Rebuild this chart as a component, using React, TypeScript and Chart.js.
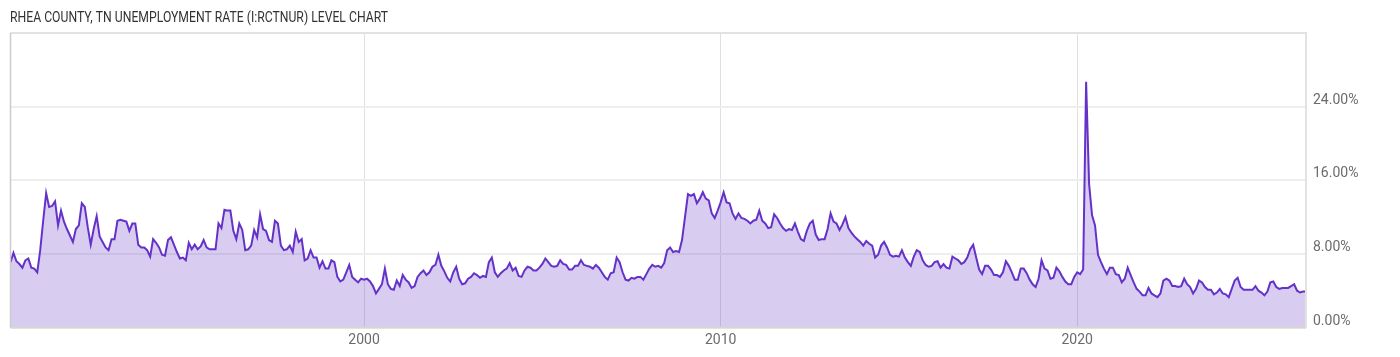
import React, { useEffect, useRef } from "react";
import { Chart, registerables } from "chart.js";

Chart.register(...registerables);

const TITLE = "RHEA COUNTY, TN UNEMPLOYMENT RATE (I:RCTNUR) LEVEL CHART";
const START_YEAR = 1990;
const X_TICKS = [2000, 2010, 2020];
const Y_TICK_STEP = 8;

const rates1990s = [
  7.1, 8.1, 7.2, 6.9, 6.5, 7.3, 7.5, 6.5, 6.4, 6.0, 8.4, 11.6,
  14.6, 13.1, 13.2, 13.7, 11.1, 12.7, 11.5, 10.7, 10.0, 9.3, 10.7, 11.1,
  13.5, 13.1, 10.9, 9.0, 10.7, 12.1, 9.9, 9.3, 8.7, 8.4, 9.6, 9.6,
  11.6, 11.7, 11.6, 11.5, 10.5, 11.3, 11.3, 9.0, 8.7, 8.7, 8.4, 7.7,
  9.6, 9.2, 8.7, 7.9, 7.8, 9.5, 9.8, 9.0, 8.2, 7.5, 7.6, 7.3,
  9.2, 8.5, 9.0, 8.5, 8.8, 9.5, 8.7, 8.5, 8.5, 8.5, 11.3, 10.8,
  12.8, 12.7, 12.7, 10.5, 9.6, 11.3, 10.6, 8.4, 8.5, 8.9, 10.6, 9.8,
  12.3, 10.7, 10.5, 9.5, 9.3, 11.6, 11.3, 8.9, 8.4, 8.5, 8.9, 8.2,
  10.4, 9.3, 9.6, 7.3, 7.5, 8.4, 7.6, 7.6, 6.5, 7.2, 6.4, 6.4,
  7.3, 7.1, 5.5, 5.0, 5.2, 6.0, 6.8, 5.5, 5.2, 4.9, 5.3, 5.2,
];

const rates2000s = [
  5.3, 5.0, 4.5, 3.7, 4.2, 4.7, 6.4, 4.7, 4.2, 4.1, 5.1, 4.5,
  5.7, 5.2, 4.9, 4.3, 4.5, 5.5, 5.9, 6.2, 5.7, 6.0, 6.6, 6.8,
  7.9, 6.7, 6.1, 5.4, 5.0, 6.0, 6.6, 5.3, 4.7, 4.8, 5.3, 5.5,
  5.9, 5.7, 5.4, 5.6, 5.5, 7.1, 7.6, 6.0, 5.5, 5.9, 6.2, 6.4,
  7.0, 6.2, 6.5, 5.6, 5.5, 6.2, 6.6, 6.5, 6.2, 6.2, 6.5, 6.9,
  7.5, 7.1, 6.7, 6.6, 6.7, 7.3, 6.9, 6.8, 6.3, 6.3, 6.7, 6.7,
  7.3, 6.8, 6.7, 6.6, 6.4, 6.8, 6.5, 6.0, 5.5, 5.2, 5.9, 6.0,
  7.6, 7.1, 6.0, 5.2, 5.1, 5.4, 5.3, 5.5, 5.5, 5.2, 5.8, 6.4,
  6.8, 6.6, 6.7, 6.5, 7.0, 8.4, 8.7, 8.2, 8.3, 8.2, 9.5, 12.0,
  14.5, 14.3, 14.5, 13.5, 14.0, 14.7, 14.0, 13.8, 12.4, 11.9, 12.7, 13.6,
];

const rates2010s = [
  14.7, 13.6, 13.5, 12.4, 11.8, 12.4, 11.9, 11.8, 11.6, 11.3, 11.6, 11.7,
  12.7, 11.6, 11.3, 10.8, 10.9, 12.3, 11.9, 11.3, 10.8, 10.5, 10.7, 10.6,
  11.3, 10.4, 9.6, 9.4, 10.5, 11.3, 11.6, 10.1, 9.5, 9.6, 9.6, 10.7,
  12.4, 11.5, 11.3, 10.6, 11.2, 12.0, 10.8, 10.3, 9.9, 9.6, 9.3, 8.9,
  9.4, 9.1, 8.9, 7.6, 7.9, 8.9, 9.3, 8.7, 7.9, 7.7, 7.8, 7.7,
  8.4, 7.6, 7.1, 6.7, 7.7, 8.4, 8.2, 7.3, 6.8, 6.6, 6.7, 7.1,
  7.2, 6.5, 6.9, 6.5, 6.4, 7.7, 7.5, 7.3, 6.9, 7.1, 7.6, 8.5,
  9.0, 7.6, 6.3, 5.8, 6.7, 6.7, 6.3, 5.7, 5.7, 5.5, 6.0, 7.2,
  6.7, 6.0, 5.2, 5.2, 6.4, 6.4, 5.9, 5.2, 4.7, 4.4, 5.3, 7.3,
  6.4, 6.2, 5.3, 5.4, 6.5, 6.1, 5.5, 5.0, 4.7, 4.7, 5.5, 6.0,
];

const rates2020s = [
  5.8, 6.3, 26.7, 15.6, 12.2, 11.1, 7.9, 7.1, 6.4, 5.8, 6.5, 6.5,
  5.8, 5.7, 4.9, 5.3, 6.5, 5.7, 4.9, 4.2, 3.9, 3.5, 3.5, 4.3,
  3.7, 3.5, 3.3, 3.7, 5.1, 5.3, 5.1, 4.5, 4.5, 4.4, 4.5, 5.3,
  4.7, 4.4, 3.7, 4.2, 5.1, 4.9, 4.4, 4.1, 4.1, 3.6, 3.8, 4.2,
  3.7, 3.6, 3.3, 4.2, 5.1, 5.4, 4.4, 4.1, 4.1, 4.1, 4.1, 4.5,
  4.0, 3.8, 3.5, 3.9, 4.9, 5.0, 4.4, 4.2, 4.3, 4.3, 4.3, 4.5,
  4.7, 4.0, 3.8, 3.9, 3.9,
];

const rates = [...rates1990s, ...rates2000s, ...rates2010s, ...rates2020s];
// monthly observations, stamped at month end
const dates = rates.map((_, i) => START_YEAR + (i + 1) / 12);

const chrome = {
  id: "chrome",
  afterDraw(chart: any) {
    const { ctx, chartArea: a } = chart;
    ctx.save();
    ctx.strokeStyle = "#e2e2e2";
    ctx.lineWidth = 2;
    ctx.beginPath();
    ctx.moveTo(a.left, a.top);
    ctx.lineTo(a.right, a.top);
    ctx.lineTo(a.right, a.bottom);
    ctx.stroke();
    ctx.strokeStyle = "#d6d6d6";
    ctx.beginPath();
    ctx.moveTo(a.left, a.bottom);
    ctx.lineTo(a.right, a.bottom);
    ctx.stroke();
    ctx.strokeStyle = "#cccccc";
    ctx.lineWidth = 1.5;
    ctx.beginPath();
    ctx.moveTo(a.left, a.top);
    ctx.lineTo(a.left, a.bottom);
    ctx.stroke();

    ctx.font = "400 14px Roboto";
    ctx.fillStyle = "#333333";
    ctx.textBaseline = "alphabetic";
    const w = ctx.measureText(TITLE).width;
    ctx.translate(10, 21.7);
    ctx.scale(378 / w, 1);
    ctx.fillText(TITLE, 0, 0);
    ctx.restore();
  },
};

export default function App() {
  const ref = useRef<HTMLCanvasElement | null>(null);
  useEffect(() => {
    if (!ref.current) return;
    const chart = new Chart(ref.current, {
      type: "line",
      data: {
        datasets: [
          {
            data: rates.map((v, i) => ({ x: dates[i], y: v })),
            borderColor: "rgb(100,50,200)",
            backgroundColor: "rgba(100,50,200,0.25)",
            borderWidth: 2,
            pointRadius: 0,
            fill: "origin",
            tension: 0,
          },
        ],
      },
      options: {
        animation: false,
        responsive: false,
        layout: { padding: { left: 10.5, top: 33, right: 0, bottom: 0 } },
        plugins: { legend: { display: false }, tooltip: { enabled: false } },
        scales: {
          x: {
            type: "linear",
            min: dates[0],
            max: dates[dates.length - 1],
            afterBuildTicks: (s: any) => {
              s.ticks = X_TICKS.map((v) => ({ value: v }));
            },
            afterFit: (s: any) => {
              s.height = 357 - 327.5;
            },
            grid: { color: "#e0e0e0", lineWidth: 1, drawTicks: false },
            border: { display: false },
            ticks: {
              padding: 5,
              color: "#6b6b6b",
              font: { family: "Roboto", size: 14 },
              callback: (v: any) => String(v),
              maxRotation: 0,
            },
          },
          y: {
            position: "right",
            min: 0,
            max: 32,
            afterFit: (s: any) => {
              s.width = 94;
            },
            grid: { color: "#eeeeee", lineWidth: 2, drawTicks: false },
            border: { display: false },
            ticks: {
              stepSize: Y_TICK_STEP,
              padding: 7,
              labelOffset: -6.5,
              color: "#6b6b6b",
              font: { family: "Roboto", size: 14 },
              callback: (v: any) => (v >= 32 ? "" : Number(v).toFixed(2) + "%"),
            },
          },
        },
      },
      plugins: [chrome],
    });
    return () => chart.destroy();
  }, []);
  return (
    <div style={{ position: "absolute", left: 0, top: 0, width: 1400, height: 357, background: "#fff" }}>
      <canvas ref={ref} width={1400} height={357} style={{ display: "block" }} />
    </div>
  );
}
